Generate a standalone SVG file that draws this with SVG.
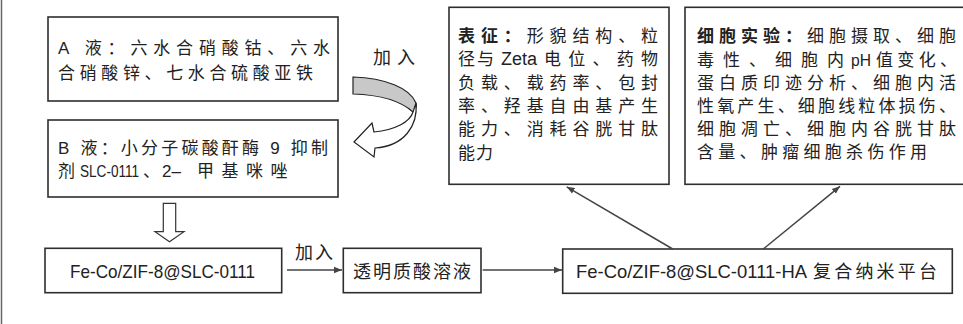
<svg xmlns="http://www.w3.org/2000/svg" width="963" height="324" viewBox="0 0 963 324">
  <style>
    .box { fill: #fff; stroke: #2e2e2e; stroke-width: 1.6; }
    .t { font-family: "Liberation Sans", "Noto Sans CJK SC", sans-serif; font-size: 17px; fill: #222; }
    .lat { font-family: "Liberation Sans", "Noto Sans CJK SC", sans-serif; font-size: 19px; fill: #222; }
    .b { font-weight: bold; }
    .conn { stroke: #444; stroke-width: 1.5; fill: none; }
    .hollow { fill: #fff; stroke: #333; stroke-width: 1.2; stroke-linejoin: miter; }
  </style>
  <defs>
    <marker id="ah" viewBox="0 0 10 10" refX="10" refY="5" markerWidth="8" markerHeight="8" markerUnits="userSpaceOnUse" orient="auto">
      <path d="M0,1 L10,5 L0,9 Z" fill="#444"/>
    </marker>
  </defs>

  <rect width="963" height="324" fill="#fff"/>
  <!-- page edge -->
  <line x1="1.5" y1="0" x2="1.5" y2="324" stroke="#666" stroke-width="1.5"/>

  <g id="solution-a">
    <rect class="box" x="48" y="17" width="290" height="84"/>
    <text class="t" x="58" y="54" textLength="272" lengthAdjust="spacing">A 液：六水合硝酸钴、六水</text>
    <text class="t" x="58" y="79" textLength="255" lengthAdjust="spacing">合硝酸锌、七水合硫酸亚铁</text>
  </g>

  <g id="solution-b">
    <rect class="box" x="48" y="120" width="290" height="77"/>
    <text class="t" x="58" y="154" textLength="270" lengthAdjust="spacing">B 液：小分子碳酸酐酶 9 抑制</text>
    <text class="t" y="177"><tspan x="58">剂</tspan><tspan x="143">、</tspan><tspan x="162">2–</tspan><tspan x="197" letter-spacing="7.5">甲基咪唑</tspan></text>
    <!-- inhibitor code, narrowed horizontally -->
    <text class="t" transform="translate(80,177) scale(0.8,1)">SLC-0111</text>
  </g>

  <g id="characterization">
    <rect class="box" x="449" y="7.3" width="220" height="177"/>
    <text class="t" x="458" y="41.5" textLength="200" lengthAdjust="spacing"><tspan class="b">表征：</tspan>形貌结构、粒</text>
    <text class="t" y="65"><tspan x="458" letter-spacing="2">径与</tspan><tspan x="501" style="font-size:18px">Zeta</tspan></text>
    <text class="t" x="544" y="65" textLength="114" lengthAdjust="spacing">电位、药物</text>
    <text class="t" x="458" y="88.5" textLength="200" lengthAdjust="spacing">负载、载药率、包封</text>
    <text class="t" x="458" y="112" textLength="200" lengthAdjust="spacing">率、羟基自由基产生</text>
    <text class="t" x="458" y="135" textLength="200" lengthAdjust="spacing">能力、消耗谷胱甘肽</text>
    <text class="t" x="458" y="158.5" textLength="35" lengthAdjust="spacing">能力</text>
  </g>

  <g id="cell-experiments">
    <rect class="box" x="685" y="7.3" width="300" height="177"/>
    <text class="t" x="697" y="42" textLength="259" lengthAdjust="spacing"><tspan class="b">细胞实验：</tspan>细胞摄取、细胞</text>
    <text class="t" x="697" y="65.5" textLength="147" lengthAdjust="spacing">毒性、细胞内</text>
    <text class="t" transform="translate(851,65.5) scale(0.92,1)">pH</text>
    <text class="t" x="876" y="65.5" textLength="81" lengthAdjust="spacing">值变化、</text>
    <text class="t" x="697" y="89" textLength="259" lengthAdjust="spacing">蛋白质印迹分析、细胞内活</text>
    <text class="t" x="697" y="112" textLength="259" lengthAdjust="spacing">性氧产生、细胞线粒体损伤、</text>
    <text class="t" x="697" y="135" textLength="259" lengthAdjust="spacing">细胞凋亡、细胞内谷胱甘肽</text>
    <text class="t" x="697" y="158" textLength="230" lengthAdjust="spacing">含量、肿瘤细胞杀伤作用</text>
  </g>

  <g id="fe-co-zif8">
    <rect class="box" x="45" y="248.3" width="236.7" height="44.4"/>
    <text class="lat" x="70" y="277.5" textLength="185" lengthAdjust="spacingAndGlyphs">Fe-Co/ZIF-8@SLC-0111</text>
  </g>

  <g id="hyaluronic-acid">
    <rect class="box" x="343.3" y="248.3" width="137.7" height="44.4"/>
    <text class="t" x="353" y="278" style="font-size:18px" textLength="118" lengthAdjust="spacing">透明质酸溶液</text>
  </g>

  <g id="nano-platform">
    <rect class="box" x="562.7" y="249" width="389.6" height="44.3"/>
    <text class="lat" x="576" y="277.8" textLength="231" lengthAdjust="spacingAndGlyphs">Fe-Co/ZIF-8@SLC-0111-HA</text>
    <text class="t" x="813" y="278" style="font-size:18px" textLength="124" lengthAdjust="spacing">复合纳米平台</text>
  </g>

  <g id="connectors">
    <!-- curved "add" arrow from A to B -->
    <text class="t" x="373" y="64" style="font-size:18px" textLength="42" lengthAdjust="spacing">加入</text>
    <path d="M353,77 C385,78 410,88 416,103 C417,107 416,110 413,112 C402,102 385,95 353,94 Z" fill="#c8c8c8" stroke="#222" stroke-width="1.2"/>
    <path d="M416,103 C418,125 405,146 375,148 L374,157 L354,142 L372,123 L374,132 C395,130 410,122 413,112 Z" fill="#fff" stroke="#222" stroke-width="1.2" stroke-linejoin="miter"/>

    <!-- hollow down arrow from B to Fe-Co/ZIF-8 -->
    <path class="hollow" d="M163.3,203.3 L175.7,203.3 L175.7,231.7 L184,231.7 L169.5,241.7 L155,231.7 L163.3,231.7 Z"/>

    <!-- Fe-Co/ZIF-8 into hyaluronic acid -->
    <text class="t" x="295" y="259" style="font-size:18px" textLength="38" lengthAdjust="spacing">加入</text>
    <line class="conn" x1="287" y1="270" x2="342" y2="270" marker-end="url(#ah)"/>
    <line class="conn" x1="482.7" y1="270" x2="562" y2="270" marker-end="url(#ah)"/>

    <!-- platform to the two evaluation boxes -->
    <line class="conn" x1="672.7" y1="249" x2="566.7" y2="186.8" marker-end="url(#ah)"/>
    <line class="conn" x1="763.3" y1="249" x2="840" y2="186.3" marker-end="url(#ah)"/>
  </g>
</svg>
